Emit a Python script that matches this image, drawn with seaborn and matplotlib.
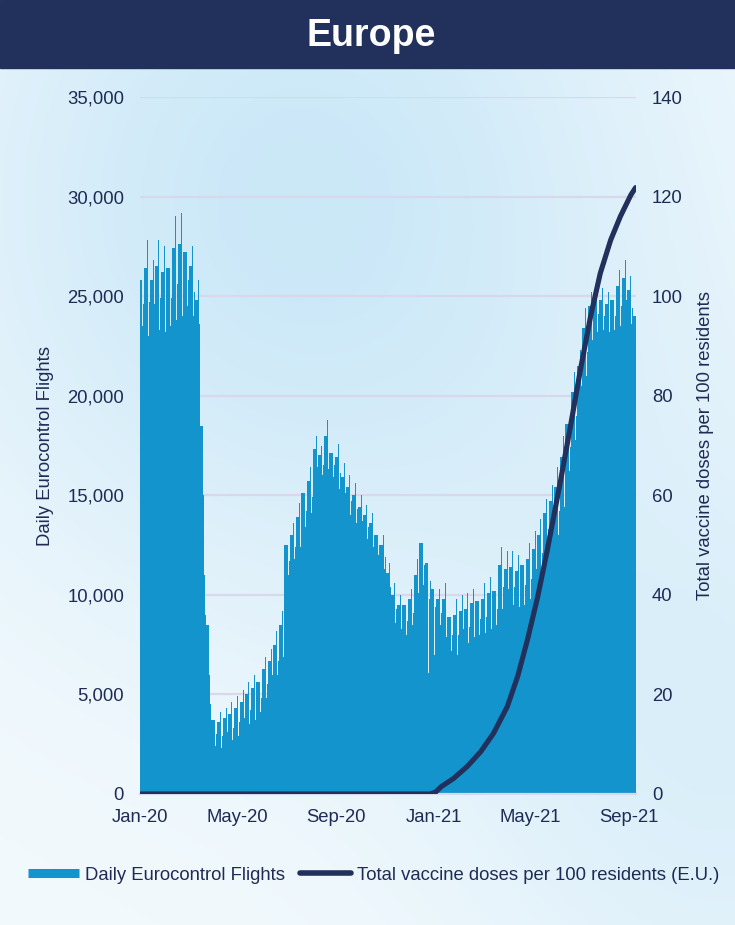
import numpy as np
import pandas as pd
import matplotlib
matplotlib.use("Agg")
import matplotlib.pyplot as plt
from matplotlib.lines import Line2D
from matplotlib.patches import Rectangle
import seaborn as sns

sns.set_theme(style="white")
plt.rcParams["font.family"] = ["Liberation Sans", "DejaVu Sans"]

# ---------------- data ----------------
# weekly values (weeks starting Monday 30 Dec 2019) of daily Eurocontrol flights
fri_peak = [26800, 27800, 26800, 27800, 27500, 27600, 29000, 29200, 28400, 27500, 25800,
            15000, 6000,
            4300, 4100, 4300, 4600, 4900, 5200, 5600, 6000, 6300, 6900, 7300, 8200, 9200,
            13200, 13600, 14600, 15800, 16400, 18000, 17500, 18800, 17600, 17600,
            16600, 16000, 15600, 15000, 14500, 14100, 13400, 13000, 11600, 10600,
            10000, 10200, 10300, 11800, 15100, 12500, 11000, 10300, 10600, 9600,
            9800, 10000, 10100, 10300, 10500, 10600, 10900, 11000, 12400, 12200,
            12200, 12000, 12300, 12600, 13200, 13800, 14800, 15500, 16400, 18000,
            19600, 21200, 22300, 24400, 25200, 25800, 25400, 25200, 25500, 26300,
            26800, 26000, 24800]
midweek = [25800, 26400, 25800, 26500, 26200, 26400, 27400, 27600, 27200, 26500, 24800,
           18500, 8500,
           3700, 3600, 3800, 4000, 4300, 4600, 5000, 5300, 5600, 6300, 6700, 7500, 8500,
           12500, 13000, 13900, 15100, 15700, 17300, 17000, 18000, 17100, 16900,
           15900, 15400, 15000, 14400, 14000, 13600, 13000, 12500, 11100, 10000,
           9500, 9500, 9800, 11000, 12600, 11600, 10300, 9800, 9800, 8900,
           9000, 9200, 9300, 9600, 9700, 9800, 10100, 10200, 11500, 11300,
           11400, 11200, 11500, 11800, 12300, 13000, 14100, 14700, 15400, 16900,
           18600, 20200, 21500, 23400, 24500, 25000, 24800, 24600, 24800, 25500,
           25900, 25300, 24000]
saturday = [23500, 23000, 23500, 23300, 23200, 23500, 23800, 24000, 24500, 24000, 22500,
            11000, 4500,
            2400, 2300, 2500, 2700, 2900, 3100, 3500, 3700, 4100, 4800, 5300, 6000, 6900,
            11000, 11800, 12400, 13400, 14100, 15600, 16000, 16300, 15900, 15300,
            14300, 14000, 13600, 13000, 12800, 12400, 12000, 11300, 9800, 8600,
            8300, 8000, 8500, 9200, 10500, 9800, 8600, 8500, 7900, 7200,
            7000, 7400, 7600, 7900, 8000, 8100, 8300, 8500, 9300, 9300,
            9500, 9400, 9500, 9800, 10300, 11200, 12500, 13000, 13000, 14400,
            16200, 17800, 19500, 21000, 22800, 23200, 23300, 23200, 23300, 23500,
            23800, 23600, 22800]
sunday = [24600, 24700, 24600, 24900, 24700, 24900, 25600, 25800, 25800, 25200, 23600,
          9000, 4000,
          3000, 2900, 3100, 3300, 3600, 3800, 4200, 4500, 4800, 5500, 6000, 6700, 7700,
          11700, 12400, 13100, 14200, 14900, 16400, 16500, 17100, 16500, 16100,
          15100, 14700, 14300, 13700, 13400, 13000, 12500, 11900, 10400, 9300,
          8900, 8700, 9100, 10100, 11500, 10700, 9400, 9100, 8800, 8000,
          8000, 8300, 8400, 8700, 8800, 8900, 9200, 9300, 10400, 10300,
          10400, 10300, 10500, 10800, 11300, 12100, 13300, 13800, 14200, 15600,
          17400, 19000, 20500, 22200, 23600, 24100, 24000, 23900, 24000, 24500,
          24800, 24400, 23400]
# single days that stand out from their week
special_dates = ["2020-12-25", "2021-01-01"]
special_flights = [6100, 7000]

vacc_dates = ["2020-01-01", "2020-12-27", "2021-01-03", "2021-01-10", "2021-01-25",
              "2021-02-11", "2021-02-28", "2021-03-16", "2021-04-02", "2021-04-15",
              "2021-04-27", "2021-05-10", "2021-05-22", "2021-06-07", "2021-06-20",
              "2021-07-02", "2021-07-15", "2021-07-27", "2021-08-09", "2021-08-21",
              "2021-09-03", "2021-09-09"]
vacc_doses = [0, 0, 0.4, 1.5, 3.1, 5.5, 8.5, 12.2, 17.5, 23.6, 30.8, 39.6, 49.0, 62.5,
              74.0, 85.0, 96.0, 104.6, 111.3, 116.0, 120.3, 121.8]

tick_labels = ["Jan-20", "May-20", "Sep-20", "Jan-21", "May-21", "Sep-21"]
tick_dates = ["2020-01-01", "2020-05-01", "2020-09-01", "2021-01-01", "2021-05-01", "2021-09-01"]

# ---------------- build daily series ----------------
start = pd.Timestamp("2020-01-01")
dates = pd.date_range(start, "2021-09-09", freq="D")
week = np.asarray((dates - pd.Timestamp("2019-12-30")).days // 7)
dow = np.asarray(dates.dayofweek)
flights = np.select([dow < 4, dow == 4, dow == 5],
                    [np.take(midweek, week), np.take(fri_peak, week), np.take(saturday, week)],
                    np.take(sunday, week)).astype(float)
for d, v in zip(special_dates, special_flights):
    flights[(pd.Timestamp(d) - start).days] = v
day = np.arange(len(dates))
df = pd.DataFrame({"day": day, "flights": flights})
vdf = pd.DataFrame({"day": [(pd.Timestamp(d) - start).days for d in vacc_dates],
                    "doses": vacc_doses})
tick_pos = [(pd.Timestamp(d) - start).days for d in tick_dates]

BLUE = "#1494CC"
NAVY = "#22305C"
TXT = "#1F2B55"
GRID = "#D9D7EC"

W, H = 735, 925
fig = plt.figure(figsize=(W / 100, H / 100), dpi=100)

# background gradient
yy, xx = np.mgrid[0:H, 0:W].astype(float)
w = 0.85 * np.exp(-(((xx - 300) / 380) ** 2 + ((yy - 200) / 420) ** 2)) \
    + 0.5 * np.exp(-(((xx - 735) / 300) ** 2 + ((yy - 750) / 350) ** 2))
w = np.clip(w, 0, 1)[..., None]
light = np.array([0xF4, 0xFA, 0xFD]) / 255
dark = np.array([0xC4, 0xE5, 0xF7]) / 255
img = light * (1 - w) + dark * w
bg = fig.add_axes([0, 0, 1, 1], zorder=-10)
bg.imshow(img, extent=[0, 1, 0, 1], aspect="auto")
bg.axis("off")

# title bar
bar_h = 68 / H
fig.patches.append(Rectangle((0, 1 - bar_h), 1, bar_h, transform=fig.transFigure,
                             color=NAVY, zorder=1))
fig.text(0.505, 1 - 36 / H, "Europe", color="white", fontsize=27, fontweight="bold",
         ha="center", va="center", zorder=3)

ax = fig.add_axes([140 / W, (H - 794) / H, 496 / W, 697 / H])
ax.set_facecolor("none")
sns.barplot(data=df, x="day", y="flights", native_scale=True, width=1.0, color=BLUE,
            saturation=1, edgecolor="none", linewidth=0, errorbar=None, ax=ax)
ax.set_xlim(-0.5, len(day) - 0.5)
ax.set_ylim(0, 35000)
ax.set_yticks(range(0, 35001, 5000))
ax.set_yticklabels([f"{v:,}" for v in range(0, 35001, 5000)])
ax.set_xticks(tick_pos)
ax.set_xticklabels(tick_labels)
ax.yaxis.grid(True, color=GRID, lw=1.6)
ax.xaxis.grid(False)
ax.set_axisbelow(True)
for s in ["top", "right", "left"]:
    ax.spines[s].set_visible(False)
ax.spines["bottom"].set_color(GRID)
ax.spines["bottom"].set_linewidth(1.6)
ax.tick_params(axis="x", length=5, width=1.2, color=GRID, pad=6, labelsize=13.3,
               labelcolor=TXT)
ax.tick_params(axis="y", length=0, pad=11.5, labelsize=13.3, labelcolor=TXT)
ax.set_xlabel("")
ax.set_ylabel("Daily Eurocontrol Flights", fontsize=13.3, color=TXT, labelpad=9.5)

ax2 = ax.twinx()
sns.lineplot(data=vdf, x="day", y="doses", ax=ax2, color=NAVY, lw=3.7)
for ln in ax2.lines:
    ln.set_solid_capstyle("round")
    ln.set_solid_joinstyle("round")
ax2.set_ylim(0, 140)
ax2.set_yticks(range(0, 141, 20))
ax2.set_xlim(-0.5, len(day) - 0.5)
for s in ["top", "right", "left", "bottom"]:
    ax2.spines[s].set_visible(False)
ax2.tick_params(axis="y", length=0, pad=11.5, labelsize=13.3, labelcolor=TXT)
ax2.set_xlabel("")
ax2.set_ylabel("Total vaccine doses per 100 residents", fontsize=13.3, color=TXT,
               labelpad=10)

handles = [Line2D([], [], color=BLUE, lw=6.5, solid_capstyle="butt"),
           Line2D([], [], color=NAVY, lw=4, solid_capstyle="round")]
labels = ["Daily Eurocontrol Flights", "Total vaccine doses per 100 residents (E.U.)"]
leg = fig.legend(handles, labels, loc="center", bbox_to_anchor=(0.508, 1 - 875 / H),
                 ncol=2, frameon=False, fontsize=13.3, handlelength=2.8,
                 handletextpad=0.3, columnspacing=0.8)
for t in leg.get_texts():
    t.set_color(TXT)

fig.savefig("out.png", dpi=100)
